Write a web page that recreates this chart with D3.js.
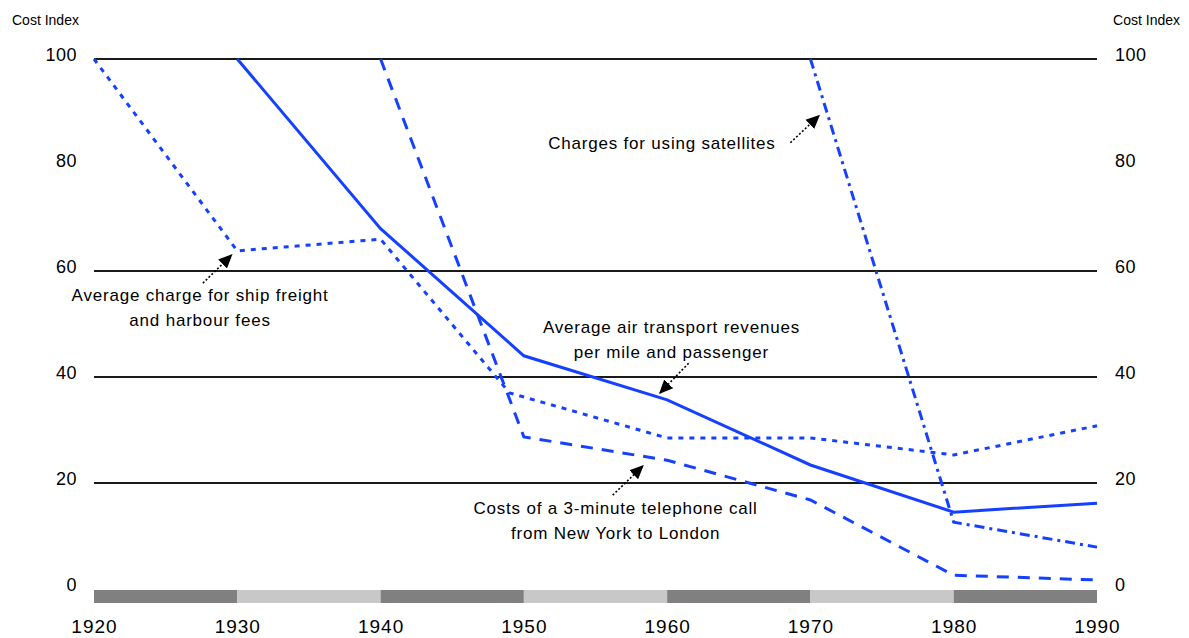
<!DOCTYPE html>
<html><head><meta charset="utf-8">
<script src="https://cdn.jsdelivr.net/npm/d3@7"></script>
<style>body{margin:0;background:#fff}svg{display:block}text{font-family:"Liberation Sans",Arial,sans-serif;fill:#000}</style>
</head><body>
<svg id="c" width="1189" height="638"></svg>
<script>
const yearTicks = [1920,1930,1940,1950,1960,1970,1980,1990];
const valueTicks = [0,20,40,60,80,100];
const gridValues = [20,40,60,100];
const airYears = [1930,1940,1950,1960,1970,1980,1990];
const airValues = [100,68,44,35.7,23.4,14.5,16.2];
const shipYears = [1920,1930,1940,1949,1960,1970,1980,1990];
const shipValues = [100,63.8,66,37,28.5,28.5,25.3,30.8];
const phoneYears = [1940,1950,1960,1970,1980,1990];
const phoneValues = [100,28.7,24.3,16.8,2.6,1.7];
const satYears = [1970,1980,1990];
const satValues = [100,12.6,7.9];
const annLabels = [
  {lines:["Charges for using satellites"], x:1951.7, y:83.8, anchor:"start", tail:[1968.6,84.2], head:[1970.6,89.3]},
  {lines:["Average charge for ship freight","and harbour fees"], x:1927.4, y:55.1, anchor:"middle", tail:[1927.6,57.7], head:[1929.6,63.0]},
  {lines:["Average air transport revenues","per mile and passenger"], x:1960.3, y:49.1, anchor:"middle", tail:[1961.5,42.6], head:[1959.5,37.0]},
  {lines:["Costs of a 3-minute telephone call","from New York to London"], x:1956.4, y:14.9, anchor:"middle", tail:[1956.2,17.7], head:[1958.3,23.2]}
];

const svg = d3.select("#c");
const x = d3.scaleLinear().domain([1920,1990]).range([94,1097]);
const y = d3.scaleLinear().domain([0,100]).range([589,59]);
const blue = "#1540ff";

// decade bar
const decades = d3.pairs(yearTicks);
svg.selectAll("rect.dec").data(decades).join("rect")
  .attr("x", d=>x(d[0])).attr("width", d=>x(d[1])-x(d[0]))
  .attr("y", y(0)+1).attr("height", 13)
  .attr("fill", (d,i)=> i%2===0 ? "#808080" : "#c8c8c8");

// grid
svg.selectAll("line.grid").data(gridValues).join("line")
  .attr("x1", x(1920)).attr("x2", x(1990))
  .attr("y1", d=>y(d)).attr("y2", d=>y(d))
  .attr("stroke", "#1a1a1a").attr("stroke-width", 1.8);

// axes (labels only)
const axL = d3.axisLeft(y).tickValues(valueTicks).tickSize(0).tickPadding(0);
const gL = svg.append("g").attr("transform","translate(77,-4)").call(axL);
const axR = d3.axisRight(y).tickValues(valueTicks).tickSize(0).tickPadding(0);
const gR = svg.append("g").attr("transform","translate(1115,-4)").call(axR);
const axB = d3.axisBottom(x).tickValues(yearTicks).tickFormat(d3.format("d")).tickSize(0).tickPadding(0);
const gB = svg.append("g").attr("transform","translate(0,619)").call(axB);
[gL,gR].forEach(g=>{
  g.select(".domain").remove();
  g.selectAll("text").attr("font-size",18).attr("letter-spacing","0.5px").attr("font-family","Liberation Sans, Arial, sans-serif").attr("fill","#000");
});
gB.select(".domain").remove();
gB.selectAll("text").attr("font-size",19).attr("letter-spacing","1px").attr("font-family","Liberation Sans, Arial, sans-serif").attr("fill","#000");

svg.append("text").attr("x",12).attr("y",25).attr("font-size",14).text("Cost Index");
svg.append("text").attr("x",1180).attr("y",25).attr("font-size",14).attr("text-anchor","end").text("Cost Index");

// series
const line = d3.line().x(d=>x(d[0])).y(d=>y(d[1]));
const series = [
  {years:shipYears, values:shipValues, dash:"5,6"},
  {years:phoneYears, values:phoneValues, dash:"12,9"},
  {years:satYears, values:satValues, dash:"10,5,3,5"},
  {years:airYears, values:airValues, dash:null}
];
series.forEach(s=>{
  svg.append("path").datum(d3.zip(s.years, s.values))
    .attr("d", line).attr("fill","none").attr("stroke",blue)
    .attr("stroke-width",3).attr("stroke-dasharray", s.dash);
});

// annotations
svg.append("defs").append("marker").attr("id","ah")
  .attr("viewBox","0 0 10 10").attr("refX",9).attr("refY",5)
  .attr("markerWidth",14).attr("markerHeight",14).attr("markerUnits","userSpaceOnUse")
  .attr("orient","auto").append("path").attr("d","M0,0.5 L10,5 L0,9.5 Z").attr("fill","#000");

annLabels.forEach(a=>{
  const t = svg.append("text").attr("x", x(a.x)).attr("y", y(a.y)).attr("font-size",17)
    .attr("letter-spacing","0.8px").attr("text-anchor", a.anchor).attr("dominant-baseline","middle");
  a.lines.forEach((l,i)=> t.append("tspan").attr("x", x(a.x)).attr("dy", i===0?0:25).text(l));
  svg.append("line").attr("x1",x(a.tail[0])).attr("y1",y(a.tail[1]))
    .attr("x2",x(a.head[0])).attr("y2",y(a.head[1]))
    .attr("stroke","#000").attr("stroke-width",1.6).attr("stroke-dasharray","2,2")
    .attr("marker-end","url(#ah)");
});
</script>
</body></html>
